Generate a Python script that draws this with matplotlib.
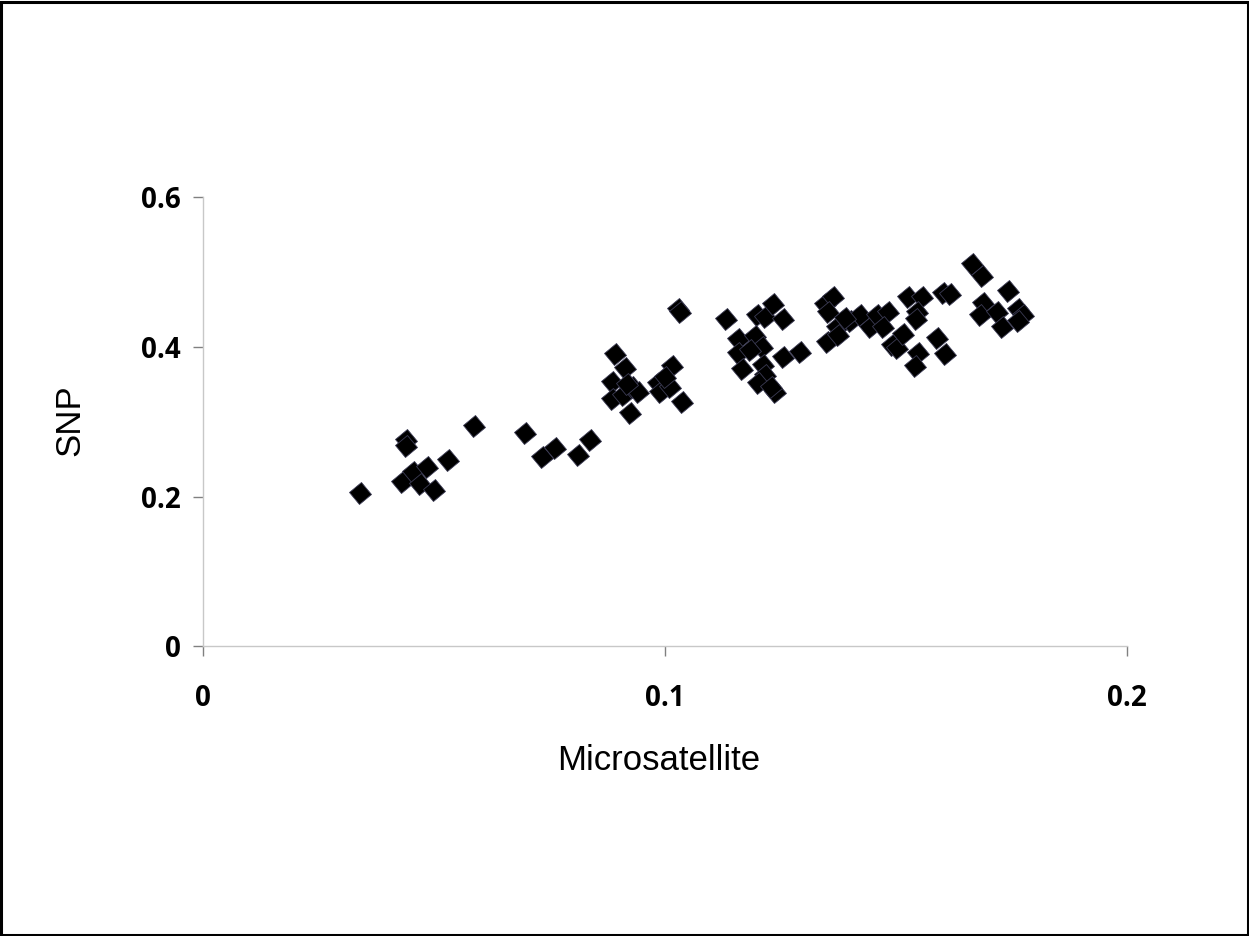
import matplotlib
matplotlib.use("Agg")
import matplotlib.pyplot as plt
from matplotlib.markers import MarkerStyle
from matplotlib.transforms import Affine2D
from matplotlib.patches import Rectangle

# microsatellite vs SNP values
micro = [0.034, 0.044, 0.044, 0.043, 0.0455, 0.047, 0.0485, 0.050, 0.053, 0.0587,
         0.0697, 0.0734, 0.0762, 0.0812, 0.0838,
         0.0892, 0.0913, 0.0885, 0.0885, 0.0909, 0.0924, 0.0929, 0.0942, 0.0918,
         0.1015, 0.0985, 0.0989, 0.1011, 0.1000, 0.1037, 0.1028, 0.1032,
         0.1132, 0.1199, 0.1216, 0.1234, 0.1255, 0.1158, 0.1195, 0.1210, 0.1158,
         0.1184, 0.1167, 0.1212, 0.1216, 0.1201, 0.1238, 0.1229, 0.1255, 0.1292,
         0.1346, 0.1364, 0.1353, 0.1372, 0.1351, 0.1374, 0.1400, 0.1422, 0.1444,
         0.1459, 0.1483, 0.1472, 0.1491, 0.1502, 0.1515, 0.1526, 0.1390,
         0.1665, 0.1686, 0.1742, 0.1688, 0.1682, 0.1719, 0.1729, 0.1764, 0.1775,
         0.1764, 0.1556, 0.1545, 0.1602, 0.1617, 0.1548, 0.1589, 0.1606, 0.1541,
         0.1543]
snp = [0.205, 0.276, 0.267, 0.219, 0.233, 0.217, 0.240, 0.209, 0.249, 0.295,
       0.285, 0.253, 0.265, 0.255, 0.276,
       0.391, 0.372, 0.353, 0.330, 0.336, 0.312, 0.346, 0.340, 0.350,
       0.374, 0.352, 0.340, 0.346, 0.360, 0.326, 0.450, 0.446,
       0.437, 0.443, 0.440, 0.457, 0.437, 0.410, 0.414, 0.400, 0.392,
       0.396, 0.370, 0.376, 0.363, 0.352, 0.340, 0.346, 0.387, 0.393,
       0.457, 0.466, 0.446, 0.427, 0.407, 0.416, 0.434, 0.443, 0.427,
       0.443, 0.446, 0.426, 0.403, 0.399, 0.417, 0.467, 0.438,
       0.510, 0.494, 0.474, 0.459, 0.443, 0.446, 0.426, 0.450, 0.443,
       0.434, 0.467, 0.446, 0.472, 0.470, 0.392, 0.412, 0.390, 0.374,
       0.437]

xticks = [0, 0.1, 0.2]
yticks = [0, 0.2, 0.4, 0.6]
xticklabels = ["0", "0.1", "0.2"]
yticklabels = ["0", "0.2", "0.4", "0.6"]

fig = plt.figure(figsize=(12.49, 9.36), dpi=100)
ax = fig.add_axes([0.1625, 0.3093, 0.7398, 0.4802])

mk = MarkerStyle("D", transform=Affine2D().rotate_deg(-6))
ax.plot(micro, snp, linestyle="none", marker=mk, ms=11,
        markerfacecolor="black", markeredgecolor="#3c3c55", markeredgewidth=0.6)

ax.set_xlim(0, 0.2)
ax.set_ylim(0, 0.6)
ax.set_xticks(xticks)
ax.set_xticklabels(xticklabels)
ax.set_yticks(yticks)
ax.set_yticklabels(yticklabels)

for s in ["top", "right"]:
    ax.spines[s].set_visible(False)
for s in ["left", "bottom"]:
    ax.spines[s].set_color("#c8c8c8")
    ax.spines[s].set_linewidth(1.0)

ax.tick_params(axis="both", direction="out", length=7, width=1, color="#808080",
               labelsize=20)
ax.tick_params(axis="x", pad=20)
ax.tick_params(axis="y", pad=9)
for lab in ax.get_xticklabels() + ax.get_yticklabels():
    lab.set_fontfamily("Open Sans")
    lab.set_fontweight("bold")

fig.text(0.527, 0.187, "Microsatellite", ha="center", va="center",
         fontsize=25, family="Liberation Sans")
fig.text(0.056, 0.551, "SNP", ha="center", va="center", rotation=90,
         fontsize=25, family="Liberation Sans")

# outer frame
fig.patches.append(Rectangle((0.001, 0.001), 0.998, 0.997, transform=fig.transFigure,
                             fill=False, edgecolor="black", linewidth=2.2))

fig.savefig("out.png", dpi=100)
